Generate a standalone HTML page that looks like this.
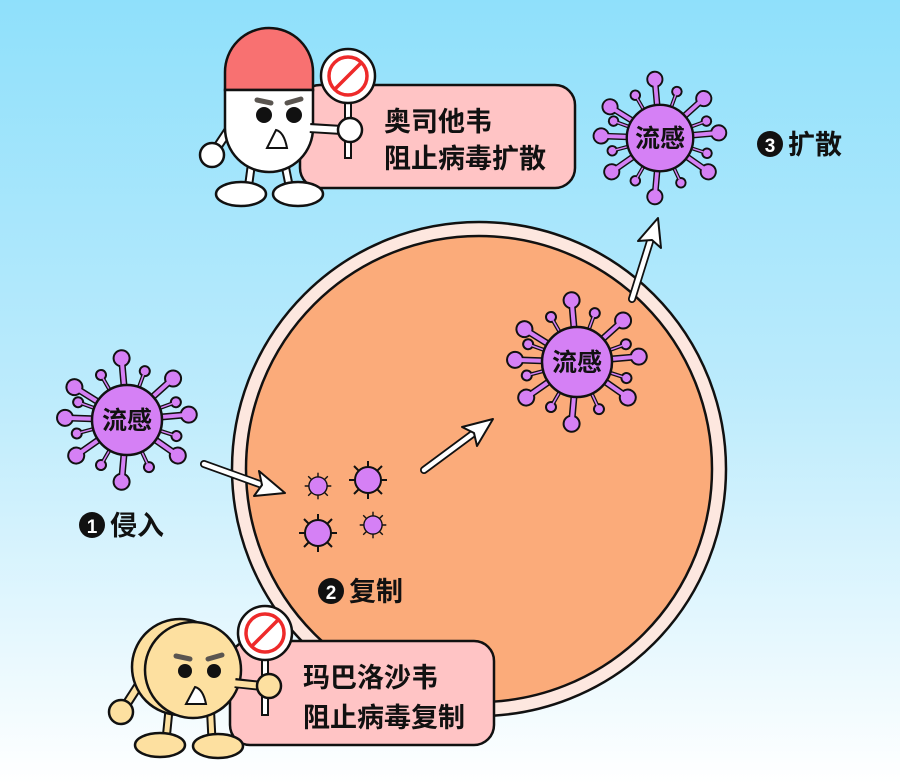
<!DOCTYPE html>
<html><head><meta charset="utf-8"><style>
html,body{margin:0;padding:0;width:900px;height:784px;overflow:hidden}
svg{display:block}
text{font-family:"Liberation Sans","Noto Sans CJK SC",sans-serif;font-weight:bold}
</style></head><body>
<svg width="900" height="784" viewBox="0 0 900 784" xmlns="http://www.w3.org/2000/svg">
<defs>
<linearGradient id="bg" x1="0" y1="0" x2="0" y2="1">
<stop offset="0" stop-color="#8fe0fb"/><stop offset="0.5" stop-color="#bcebfc"/><stop offset="1" stop-color="#ffffff"/>
</linearGradient>
<g id="sl"><line x1="0" y1="0" x2="60" y2="0" stroke="#111" stroke-width="7" stroke-linecap="round"/><circle cx="62" cy="0" r="8" fill="#d580f5" stroke="#111" stroke-width="2"/><line x1="0" y1="0" x2="58" y2="0" stroke="#d580f5" stroke-width="4"/></g>
<g id="ss"><line x1="0" y1="0" x2="50" y2="0" stroke="#111" stroke-width="4" stroke-linecap="round"/><circle cx="52" cy="0" r="5" fill="#d580f5" stroke="#111" stroke-width="2"/><line x1="0" y1="0" x2="48" y2="0" stroke="#d580f5" stroke-width="1.5"/></g>
<g id="virus">
<use href="#sl" transform="rotate(-95)"/><use href="#ss" transform="rotate(-70)"/><use href="#ss" transform="rotate(-120)"/>
<use href="#sl" transform="rotate(-42)"/><use href="#ss" transform="rotate(-20)"/>
<use href="#sl" transform="rotate(-5)"/><use href="#ss" transform="rotate(18)"/>
<use href="#sl" transform="rotate(35)"/><use href="#ss" transform="rotate(65)"/>
<use href="#sl" transform="rotate(95)"/><use href="#ss" transform="rotate(120)"/>
<use href="#sl" transform="rotate(145)"/><use href="#ss" transform="rotate(165)"/>
<use href="#sl" transform="rotate(182)"/><use href="#ss" transform="rotate(200)"/>
<use href="#sl" transform="rotate(212)"/>
<circle r="35" fill="#d580f5" stroke="#111" stroke-width="2.5"/>
</g>
<g id="mini"><g stroke="#111" stroke-width="2">
<line x1="-19" y1="0" x2="19" y2="0"/><line x1="0" y1="-19" x2="0" y2="19"/>
<line x1="-14" y1="-14" x2="14" y2="14"/><line x1="-14" y1="14" x2="14" y2="-14"/></g>
<circle r="13" fill="#d580f5" stroke="#111" stroke-width="2"/></g>
<g id="sign">
<rect x="-3" y="22" width="6" height="60" fill="#fff" stroke="#111" stroke-width="2"/>
<circle r="27" fill="#fff" stroke="#111" stroke-width="2.5"/>
<circle r="19" fill="none" stroke="#ee2a2a" stroke-width="3.5"/>
<line x1="-13" y1="13" x2="13" y2="-13" stroke="#ee2a2a" stroke-width="3.5"/>
</g>
</defs>
<rect width="900" height="784" fill="url(#bg)"/>

<circle cx="479" cy="469" r="247" fill="#fde7df" stroke="#111" stroke-width="2.5"/>
<circle cx="479" cy="469" r="233" fill="#fbab7a" stroke="#111" stroke-width="2.5"/>

<use href="#virus" transform="translate(127,420)"/>
<use href="#virus" transform="translate(577,362)"/>
<use href="#virus" transform="translate(660,138) scale(0.95)"/>
<g font-size="25" text-anchor="middle" fill="#111">
<text x="127" y="429">流感</text><text x="577" y="371">流感</text><text x="660" y="147">流感</text>
</g>
<use href="#mini" transform="translate(318,486) scale(0.7)"/>
<use href="#mini" transform="translate(368,480)"/>
<use href="#mini" transform="translate(318,533)"/>
<use href="#mini" transform="translate(373,525) scale(0.7)"/>

<g stroke="#111" stroke-linejoin="round">
<line x1="204" y1="464" x2="268" y2="487" stroke-width="8" stroke-linecap="round"/>
<line x1="204" y1="464" x2="268" y2="487" stroke="#fff" stroke-width="4.5" stroke-linecap="round"/>
<polygon points="285,493 254,496 262,485 259,471" fill="#fff" stroke-width="2"/>
<line x1="424" y1="470" x2="478" y2="430" stroke-width="8" stroke-linecap="round"/>
<line x1="424" y1="470" x2="478" y2="430" stroke="#fff" stroke-width="4.5" stroke-linecap="round"/>
<polygon points="493,419 477,446 474,433 462,427" fill="#fff" stroke-width="2"/>
<line x1="632" y1="299" x2="652" y2="235" stroke-width="8" stroke-linecap="round"/>
<line x1="632" y1="299" x2="652" y2="235" stroke="#fff" stroke-width="4.5" stroke-linecap="round"/>
<polygon points="658,218 661,248 652,240 638,241" fill="#fff" stroke-width="2"/>
</g>

<g font-size="27" fill="#111">
<circle cx="92" cy="525" r="13" fill="#111"/><text x="92" y="533" font-size="19" fill="#fff" text-anchor="middle">1</text>
<text x="110" y="535">侵入</text>
<circle cx="331" cy="591" r="13" fill="#111"/><text x="331" y="599" font-size="19" fill="#fff" text-anchor="middle">2</text>
<text x="349" y="601">复制</text>
<circle cx="770" cy="144" r="13" fill="#111"/><text x="770" y="152" font-size="19" fill="#fff" text-anchor="middle">3</text>
<text x="788" y="154">扩散</text>
</g>

<rect x="300" y="85" width="275" height="103" rx="20" fill="#ffc4c5" stroke="#111" stroke-width="2.5"/>
<g font-size="27" fill="#111"><text x="384" y="131">奥司他韦</text><text x="384" y="168">阻止病毒扩散</text></g>
<g stroke="#111" stroke-width="2.5">
<line x1="252" y1="160" x2="248" y2="190" stroke-width="9"/><line x1="252" y1="160" x2="248" y2="190" stroke="#fff" stroke-width="5"/>
<line x1="284" y1="160" x2="290" y2="190" stroke-width="9"/><line x1="284" y1="160" x2="290" y2="190" stroke="#fff" stroke-width="5"/>
<ellipse cx="241" cy="194" rx="25" ry="12" fill="#fff"/>
<ellipse cx="298" cy="194" rx="25" ry="12" fill="#fff"/>
<line x1="232" y1="125" x2="214" y2="152" stroke-width="10"/><line x1="232" y1="125" x2="214" y2="152" stroke="#fff" stroke-width="6"/>
<circle cx="212" cy="155" r="12" fill="#fff"/>
</g>
<use href="#sign" transform="translate(348,76)"/>
<g stroke="#111" stroke-width="2.5">
<path d="M225,90 V72 A44,44 0 0 1 313,72 V90 Z" fill="#f87171"/>
<path d="M225,90 V128 A44,44 0 0 0 313,128 V90 Z" fill="#fff"/>
<line x1="310" y1="128" x2="342" y2="130" stroke-width="10"/><line x1="308" y1="128" x2="342" y2="130" stroke="#fff" stroke-width="6"/>
<circle cx="350" cy="130" r="12" fill="#fff"/>
</g>
<g fill="#111"><circle cx="264" cy="115" r="8"/><circle cx="294" cy="115" r="8"/></g>
<g stroke="#5a5550" stroke-width="5" stroke-linecap="round"><line x1="257" y1="100" x2="271" y2="103"/><line x1="287" y1="103" x2="301" y2="99"/></g>
<path d="M267,148 L276,130 Q284,132 287,148 Z" fill="#fff" stroke="#111" stroke-width="2"/>

<rect x="230" y="641" width="264" height="104" rx="20" fill="#ffc4c5" stroke="#111" stroke-width="2.5"/>
<g font-size="27" fill="#111"><text x="303" y="687">玛巴洛沙韦</text><text x="303" y="727">阻止病毒复制</text></g>
<g stroke="#111" stroke-width="2.5" fill="#fde0a0">
<line x1="170" y1="700" x2="166" y2="740" stroke-width="9"/><line x1="170" y1="700" x2="166" y2="740" stroke="#fde0a0" stroke-width="5"/>
<line x1="210" y1="700" x2="212" y2="740" stroke-width="9"/><line x1="210" y1="700" x2="212" y2="740" stroke="#fde0a0" stroke-width="5"/>
<ellipse cx="160" cy="745" rx="25" ry="12"/>
<ellipse cx="218" cy="746" rx="25" ry="12"/>
<line x1="142" y1="680" x2="124" y2="708" stroke-width="10"/><line x1="142" y1="680" x2="124" y2="708" stroke="#fde0a0" stroke-width="6"/>
<circle cx="121" cy="712" r="12"/>
<circle cx="180" cy="667" r="48"/>
<circle cx="193" cy="670" r="48"/>
</g>
<use href="#sign" transform="translate(265,633)"/>
<g stroke="#111" stroke-width="2.5">
<line x1="235" y1="683" x2="262" y2="686" stroke-width="10"/><line x1="232" y1="683" x2="262" y2="686" stroke="#fde0a0" stroke-width="6"/>
<circle cx="269" cy="686" r="12" fill="#fde0a0"/>
</g>
<g fill="#111"><circle cx="185" cy="671" r="7"/><circle cx="214" cy="671" r="7"/></g>
<g stroke="#5a5550" stroke-width="5" stroke-linecap="round"><line x1="176" y1="656" x2="190" y2="659"/><line x1="208" y1="659" x2="222" y2="655"/></g>
<path d="M186,704 L195,687 Q203,689 206,704 Z" fill="#fff" stroke="#111" stroke-width="2"/>
</svg>
</body></html>
